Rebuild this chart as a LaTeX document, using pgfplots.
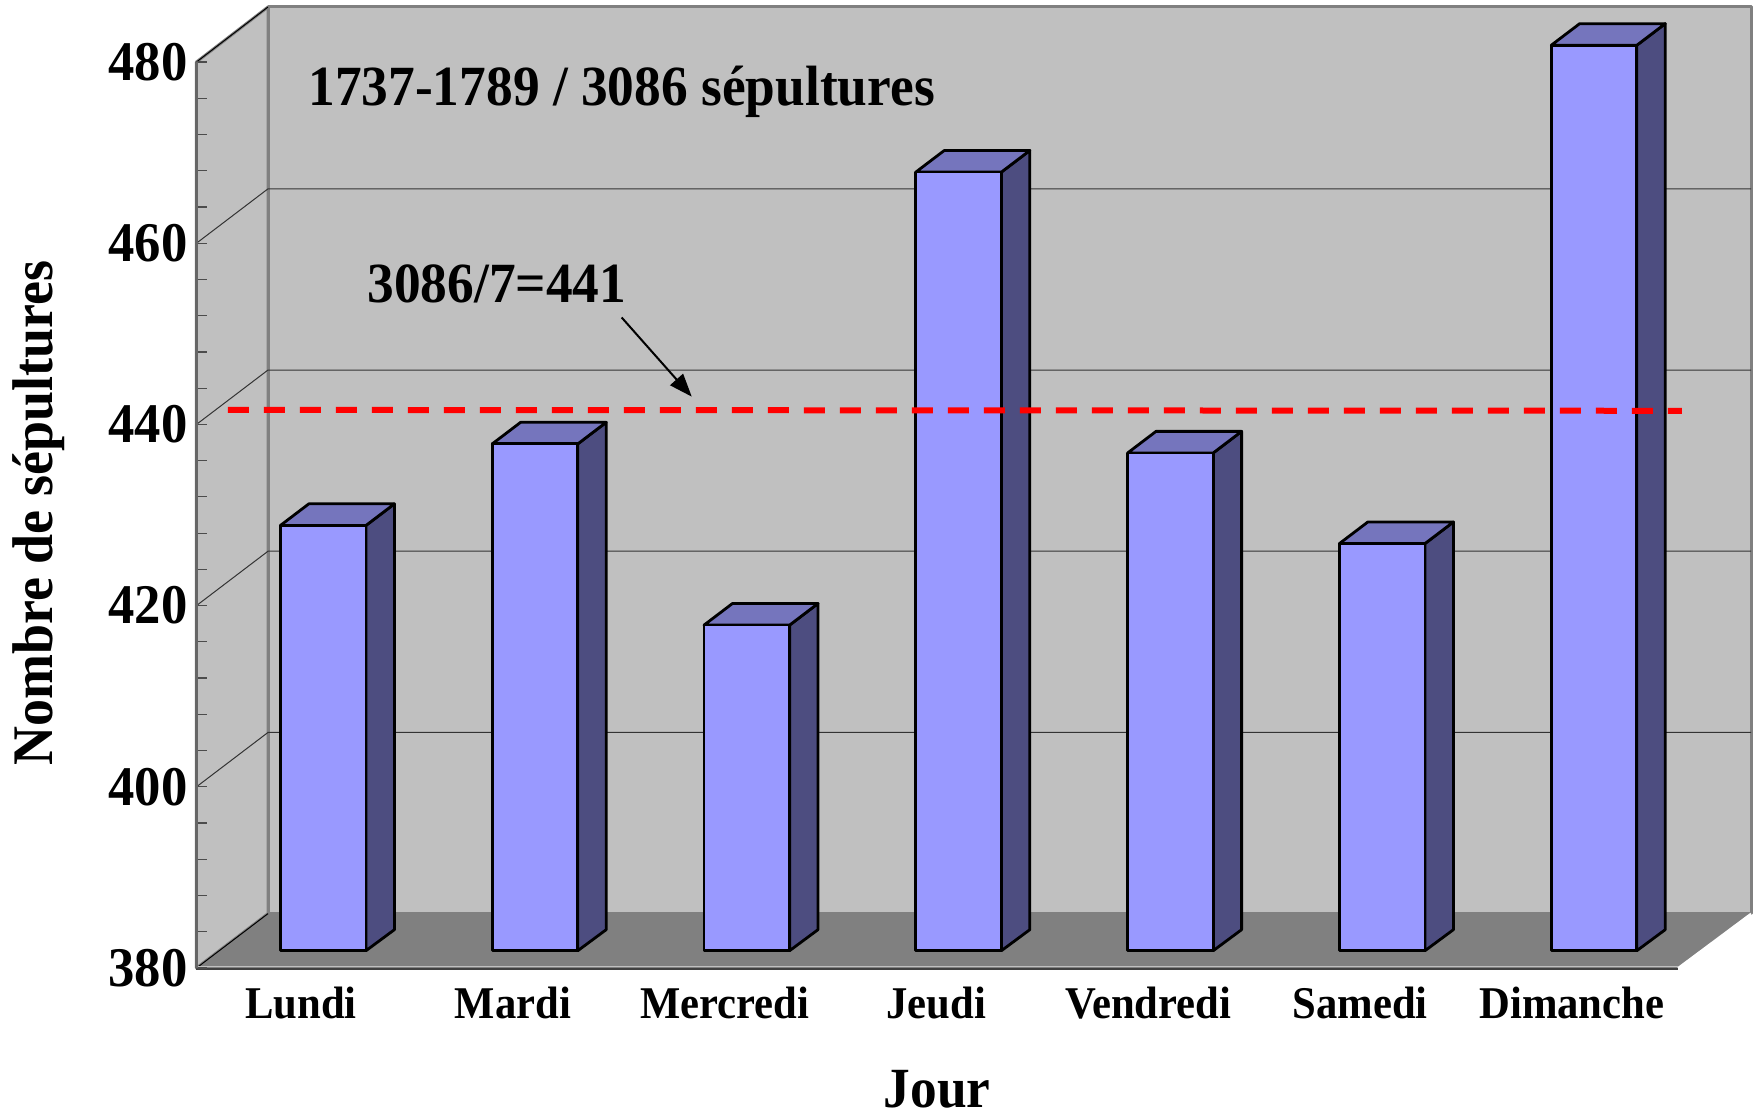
\documentclass[border=0pt]{standalone}
\usepackage{fontspec}
\setmainfont[FakeStretch=0.94]{Liberation Serif}
\usepackage{pgfplots}
\pgfplotsset{compat=1.18}
\usetikzlibrary{arrows.meta}

\definecolor{wall}{HTML}{C0C0C0}
\definecolor{floorc}{HTML}{808080}
\definecolor{barfront}{HTML}{9999FF}
\definecolor{barside}{HTML}{4D4D80}
\definecolor{bartop}{HTML}{7575BD}

\newcommand{\sized}[1]{\bfseries\fontsize{#1}{#1}\selectfont}

% one 3D bar: category position, value
\newcommand{\daybar}[2]{%
  \pgfmathsetmacro\xa{#1-0.097}%
  \pgfmathsetmacro\xb{#1+0.307}%
  \pgfmathsetmacro\xc{#1+0.441}%
  \pgfmathsetmacro\xd{#1+0.037}%
  \pgfmathsetmacro\ya{381.91}%
  \pgfmathsetmacro\yb{#2+1.85}%
  \pgfmathsetmacro\yc{#2+4.23}%
  \pgfmathsetmacro\ye{384.23}%
  \addplot[fill=barside, draw=black, line width=1.4pt, line join=round]
    coordinates {(\xb,\ya) (\xc,\ye) (\xc,\yc) (\xb,\yb)} --cycle;
  \addplot[fill=bartop, draw=black, line width=1.4pt, line join=round]
    coordinates {(\xa,\yb) (\xb,\yb) (\xc,\yc) (\xd,\yc)} --cycle;
  \addplot[fill=barfront, draw=black, line width=1.4pt, line join=round]
    coordinates {(\xa,\ya) (\xb,\ya) (\xb,\yb) (\xa,\yb)} --cycle;
}
% one grid line across the side wall and the back wall
\newcommand{\wallgrid}[1]{%
  \pgfmathsetmacro\yg{#1+6.0}%
  \addplot[black!80, line width=0.5pt] coordinates {(-0.4934,#1) (-0.1558,\yg) (6.846,\yg)};
}

\begin{document}
\begin{tikzpicture}
\begin{axis}[
  scale only axis,
  width=740.75pt,
  height=453pt,
  clip=false,
  axis on top,
  axis lines=left,
  axis line style={-},
  x axis line style={draw=none},
  y axis line style={black!60, line width=1.5pt},
  xmin=-0.4934, xmax=6.5014,
  ymin=380, ymax=480,
  xtick={0,1,2,3,4,5,6},
  xticklabels={Lundi,Mardi,Mercredi,Jeudi,Vendredi,Samedi,Dimanche},
  x tick style={draw=none},
  x tick label style={font=\sized{22.7}, anchor=base, yshift=-25.5pt},
  ytick={380,400,420,440,460,480},
  minor y tick num=4,
  tick align=inside,
  y tick style={black!70, line width=0.6pt},
  major tick length=5.5pt,
  minor tick length=5.5pt,
  y tick label style={font=\sized{28}, /pgf/number format/assume math mode=true, xshift=-1pt},
  xlabel={Jour},
  xlabel style={font=\sized{28.4}, at={(axis description cs:0.5,-0.1545)}, anchor=base},
  ylabel={Nombre de sépultures},
  ylabel style={font=\sized{28.7}, at={(axis description cs:-0.0975,0.502)}, anchor=base},
]
  % walls and floor
  \addplot[fill=wall, draw=floorc, line width=1.5pt, line join=round]
    coordinates {(-0.1558,386.0) (6.846,386.0) (6.846,486.07) (-0.1558,486.07)} --cycle;
  \addplot[fill=wall, draw=floorc, line width=1.5pt, line join=round]
    coordinates {(-0.4934,380) (-0.1558,386.0) (-0.1558,486.07) (-0.4934,480)} --cycle;
  \addplot[fill=floorc, draw=none]
    coordinates {(-0.4934,380) (6.5014,380) (6.846,386.0) (-0.1558,386.0)} --cycle;
  \addplot[black, line width=0.5pt] coordinates {(-0.4934,380) (-0.1558,386.0)};
  \addplot[black, line width=0.5pt] coordinates {(-0.4934,480) (-0.1558,486.07)};
  \addplot[white, line width=1pt] coordinates {(6.5014,380) (6.846,386.0)};
  % front edge of the floor: dark line with a pale one above it
  \addplot[black!75, line width=1pt] coordinates {(-0.4934,379.9) (6.5014,379.9)};
  \addplot[wall, line width=0.5pt] coordinates {(-0.4934,380.12) (6.5014,380.12)};
  \wallgrid{400}
  \wallgrid{420}
  \wallgrid{440}
  \wallgrid{460}

  % burials per weekday
  \daybar{0}{427}
  \daybar{1}{436}
  \daybar{2}{416}
  \daybar{3}{466}
  \daybar{4}{435}
  \daybar{5}{425}
  \daybar{6}{480}

  % mean line and its note
  \addplot[red, line width=3pt, dash pattern=on 10.5pt off 7.5pt]
    coordinates {(-0.345,441.6) (6.52,441.5)};
  \addplot[black, line width=1pt, -{Triangle[length=11.5pt, width=8.5pt]}]
    coordinates {(1.514,451.8) (1.845,443.06)};
  \node[anchor=base west, inner sep=0pt, font=\sized{28.4}] at (axis cs:0.033,475.2)
    {1737-1789 / 3086 sépultures};
  \node[anchor=base west, inner sep=0pt, font=\sized{28.4}] at (axis cs:0.3116,453.5)
    {3086/7=441};
\end{axis}
\pgfresetboundingbox
\path (-98.25pt,-72pt) rectangle (779.75pt,484pt);
\end{tikzpicture}
\end{document}
